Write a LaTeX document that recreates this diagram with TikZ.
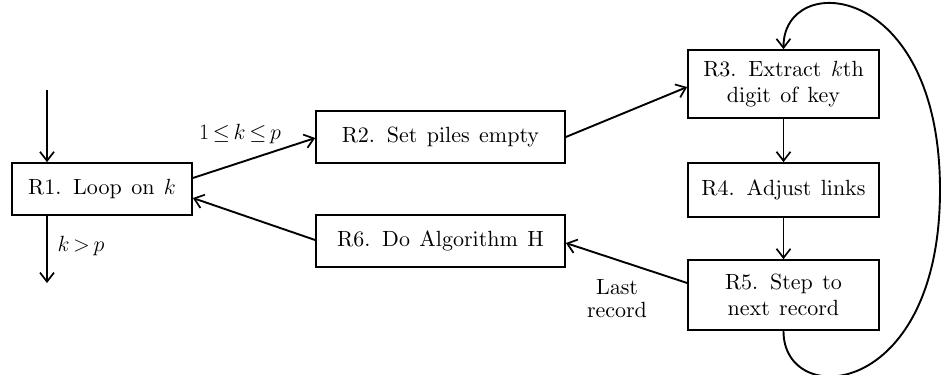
\RequirePackage{fix-cm}
\documentclass[tikz,border=0pt]{standalone}
\usetikzlibrary{arrows.meta,calc}
\font\diagrm=cmr10 at 22pt
\newcommand\myboxfont{\fontsize{22}{26}\selectfont\diagrm\spaceskip=0.43em plus 0.1em\relax}
\newcommand\mylblfont{\fontsize{22}{23}\selectfont\diagrm}
\begin{document}
\begin{tikzpicture}[x=1pt,y=-1pt,
  box/.style={draw,line width=1.7pt,inner sep=0pt,align=center,font=\myboxfont},
  conn/.style={line width=1.9pt,-{Straight Barb[length=9pt,width=14pt,line width=1.7pt]}},
  lbl/.style={font=\mylblfont,align=center}]
\useasboundingbox (0,0) rectangle (943,375);
\node[box,minimum width=180pt,minimum height=52pt] (R1) at (102,189) {R1. Loop on $k$};
\node[box,minimum width=249pt,minimum height=52pt] (R2) at (440.5,137) {R2. Set piles empty};
\node[box,minimum width=249pt,minimum height=52pt] (R6) at (440.5,241) {R6. Do Algorithm H};
\node[box,minimum width=191pt,minimum height=68pt] (R3) at (783.5,84) {R3. Extract $k$th\\digit of key};
\node[box,minimum width=191pt,minimum height=54pt] (R4) at (783.5,190) {R4. Adjust links};
\node[box,minimum width=191pt,minimum height=70pt] (R5) at (783.5,295) {R5. Step to\\next record};
\coordinate (in) at (47,90);
\coordinate (out) at (47,283);
\draw[conn] (in) -- (R1.north -| in);
\draw[conn] (R1.south -| out) -- (out);
\draw[conn] ($(R1.east)+(0,-11)$) -- ($(R2.west)+(0,1)$);
\draw[conn] ($(R2.east)+(0,0)$) -- ($(R3.west)+(0,3)$);
\draw[conn] (R3) -- (R4);
\draw[conn] (R4) -- (R5);
\draw[conn] ($(R5.west)+(0,-12)$) -- ($(R6.east)+(0,2)$);
\draw[conn] ($(R6.west)+(0,-1)$) -- ($(R1.east)+(0,9)$);
\draw[conn] (R5.south) .. controls (783,410) and (940,400) .. (940,190)
  .. controls (940,-20) and (783,-30) .. (R3.north);
\node[lbl] (l1) at (240,134) {$1\,{\leq}\,k\,{\leq}\,p$};
\node[lbl] (l2) at (81,246) {$k\,{>}\,p$};
\node[lbl] (l3) at (617,298) {Last\\record};
\end{tikzpicture}
\end{document}
